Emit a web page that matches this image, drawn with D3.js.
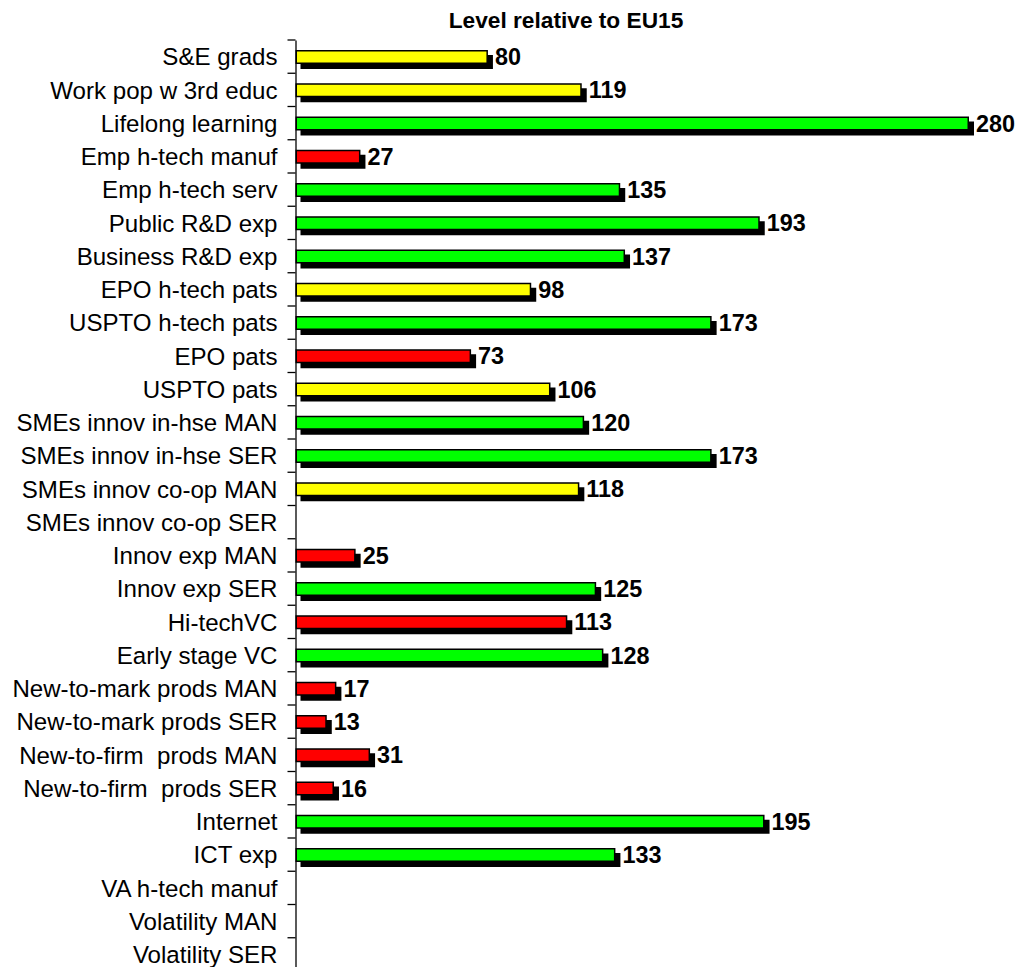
<!DOCTYPE html>
<html><head><meta charset="utf-8">
<script src="https://cdn.jsdelivr.net/npm/d3@7"></script>
<style>body{margin:0;background:#fff}</style>
</head><body>
<svg id="c" width="1021" height="967"></svg>
<script>
const categories = ["S&E grads","Work pop w 3rd educ","Lifelong learning","Emp h-tech manuf","Emp h-tech serv","Public R&D exp","Business R&D exp","EPO h-tech pats","USPTO h-tech pats","EPO pats","USPTO pats","SMEs innov in-hse MAN","SMEs innov in-hse SER","SMEs innov co-op MAN","SMEs innov co-op SER","Innov exp MAN","Innov exp SER","Hi-techVC","Early stage VC","New-to-mark prods MAN","New-to-mark prods SER","New-to-firm  prods MAN","New-to-firm  prods SER","Internet","ICT exp","VA h-tech manuf","Volatility MAN","Volatility SER"];
const values = [80,119,280,27,135,193,137,98,173,73,106,120,173,118,null,25,125,113,128,17,13,31,16,195,133,null,null,null];
const status = ["y","y","g","r","g","g","g","y","g","r","y","g","g","y",null,"r","g","r","g","r","r","r","r","g","g",null,null,null];
const colorMap = {y:"#FFFF00", g:"#00FF00", r:"#FF0000"};
const title = "Level relative to EU15";

const FONT = "Liberation Sans, Arial, Helvetica, sans-serif";
const svg = d3.select("#c");
const x = d3.scaleLinear().domain([0,280]).range([295.5,969]);
const y = d3.scaleBand().domain(categories).range([40,40+33.25*28]).paddingInner(0);

svg.append("text").attr("x",566).attr("y",28).attr("text-anchor","middle")
  .attr("font-family",FONT).attr("font-weight","bold").attr("font-size",22.7)
  .text(title);

const data = categories.map((c,i)=>({c, v:values[i], s:status[i]}));
const bh = 14, off = 10;
const withVal = data.filter(d=>d.v!=null);

// shadows
svg.append("g").selectAll("rect").data(withVal).join("rect")
  .attr("x", x(0)+5).attr("y", d=>y(d.c)+off+5)
  .attr("width", d=>x(d.v)-x(0)).attr("height", bh).attr("fill","#000");
// bars
svg.append("g").selectAll("rect").data(withVal).join("rect")
  .attr("x", x(0)+0.75).attr("y", d=>y(d.c)+off+0.75)
  .attr("width", d=>x(d.v)-x(0)-1.5).attr("height", bh-1.5)
  .attr("fill", d=>colorMap[d.s]).attr("stroke","#000").attr("stroke-width",1.5);
// value labels
svg.append("g").selectAll("text").data(withVal).join("text")
  .attr("x", d=>x(d.v)+7).attr("y", d=>y(d.c)+y.bandwidth()/2)
  .attr("dy","0.36em")
  .attr("font-family",FONT).attr("font-weight","bold").attr("font-size",23.4)
  .attr("fill","#000")
  .text(d=>d.v);

// axis
const ax = svg.append("g").attr("transform",`translate(${x(0)},0)`)
  .call(d3.axisLeft(y).tickSize(0).tickPadding(18));
ax.select(".domain").attr("stroke","#000").attr("stroke-width",1.3);
ax.selectAll(".tick text").attr("font-family",FONT).attr("font-size",24.1)
  .attr("dy","0.36em")
  .attr("fill","#000").style("white-space","pre");
// band boundary ticks
const bounds = categories.map(c=>y(c)).concat([y.range()[1]]);
svg.append("g").selectAll("line").data(bounds).join("line")
  .attr("x1", x(0)-8).attr("x2", x(0)).attr("y1", d=>d).attr("y2", d=>d)
  .attr("stroke","#000").attr("stroke-width",1.3);
</script>
</body></html>
